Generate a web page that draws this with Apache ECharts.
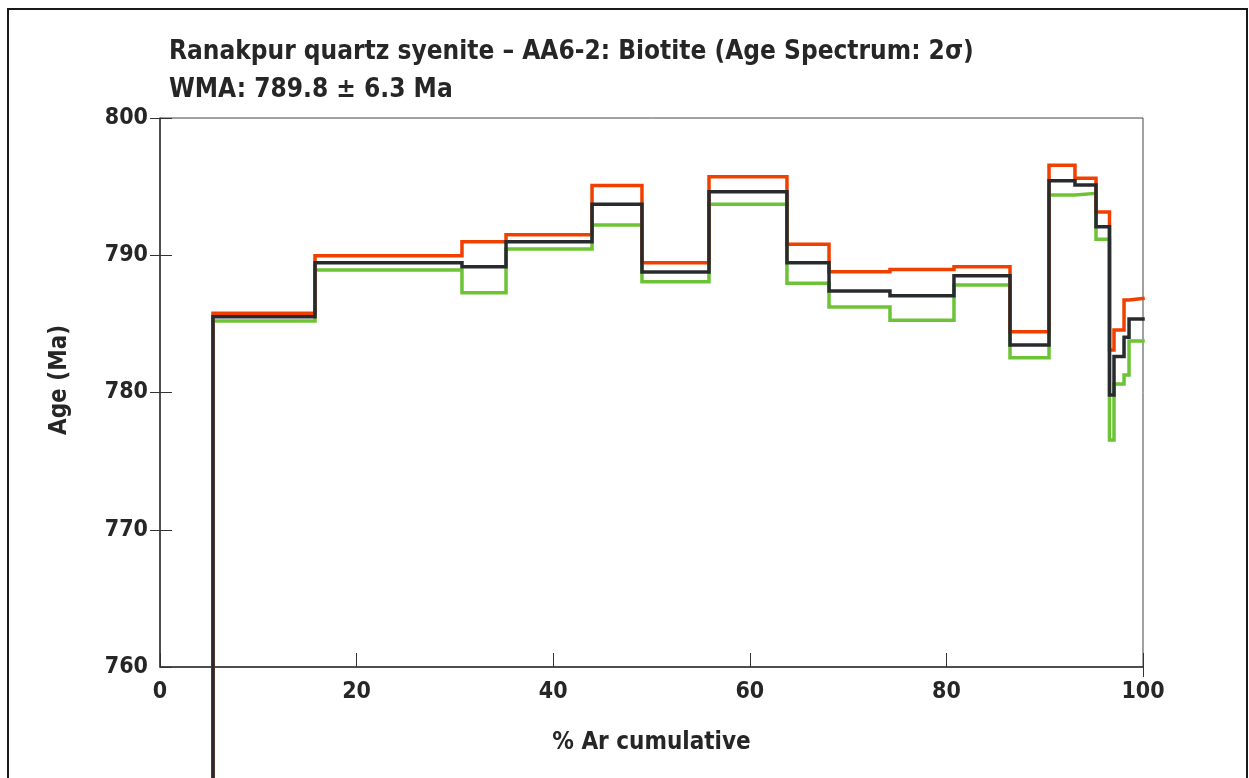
<!DOCTYPE html>
<html>
<head>
<meta charset="utf-8">
<script src="https://cdn.jsdelivr.net/npm/echarts@6/dist/echarts.min.js"></script>
<style>
  html, body { margin: 0; padding: 0; background: #ffffff; }
  #chart { width: 1249px; height: 778px; }
</style>
</head>
<body>
<div id="chart"></div>
<script>
// Step boundaries, % 39Ar released (cumulative); step i spans stepEdges[i]..stepEdges[i+1]
const stepEdges = [0, 5.39, 15.77, 30.72, 35.20, 43.95, 49.03, 55.85, 63.78, 68.06,
  74.26, 80.77, 86.47, 90.44, 93.08, 95.22, 96.59, 97.05, 98.07, 98.58, 100];

// First step falls far below the plotted range (off scale)
const firstStepAge = 700;

// Apparent age of each step (Ma)
const stepAge = [firstStepAge, 785.52, 789.46, 789.17, 790.99, 793.71, 788.78, 794.63, 789.46, 787.40,
  787.05, 788.51, 783.46, 795.43, 795.12, 792.08, 779.82, 782.62, 784.02, 785.35];

// Upper 2σ envelope (Ma)
const stepUpper = [firstStepAge, 785.77, 789.97, 790.99, 791.50, 795.09, 789.46, 795.72, 790.80, 788.80,
  788.97, 789.17, 784.43, 796.55, 795.61, 793.15, 783.10, 784.55, 786.74, 786.86];

// Lower 2σ envelope (Ma)
const stepLower = [firstStepAge, 785.21, 788.93, 787.27, 790.46, 792.20, 788.07, 793.71, 787.96, 786.23,
  785.26, 787.83, 782.54, 794.39, 794.51, 791.16, 776.54, 780.62, 781.28, 783.75];

const xTicks = [0, 20, 40, 60, 80, 100];
const yTicks = [760, 770, 780, 790, 800];

const titleLines = ['Ranakpur quartz syenite – AA6-2: Biotite (Age Spectrum: 2σ)', 'WMA: 789.8 ± 6.3 Ma'];
const xName = '% Ar cumulative';
const yName = 'Age (Ma)';

const FONT = '"Liberation Sans Narrow", "DejaVu Sans Condensed", "Liberation Sans", sans-serif';
const INK = '#262626';

// Build [x, y] pairs for a step-end line: each value held until the next edge
function stepPoints(values) {
  const pts = values.map((v, i) => [stepEdges[i], v]);
  pts.push([stepEdges[stepEdges.length - 1], values[values.length - 1]]);
  return pts;
}

function stepSeries(name, values, color, z) {
  return {
    name: name,
    type: 'line',
    step: 'end',
    data: stepPoints(values),
    symbol: 'none',
    clip: false,
    z: z,
    lineStyle: { color: color, width: 3.5, cap: 'square', join: 'miter' },
    emphasis: { disabled: true }
  };
}

const chart = echarts.init(document.getElementById('chart'), null, { renderer: 'canvas' });

chart.setOption({
  animation: false,
  backgroundColor: '#ffffff',
  title: {
    text: titleLines.join('\n'),
    left: 164,
    top: 28,
    textStyle: { fontFamily: FONT, fontWeight: 'bold', fontSize: 26, lineHeight: 38, color: INK }
  },
  graphic: [{
    type: 'rect',
    shape: { x: 8, y: 9, width: 1239, height: 820 },
    style: { fill: 'none', stroke: '#1a1a1a', lineWidth: 2 },
    silent: true
  }, {
    // vertical axis title
    type: 'text',
    x: 60, y: 380,
    rotation: Math.PI / 2,
    style: {
      text: yName, fontFamily: FONT, fontWeight: 'bold', fontSize: 24, fill: INK,
      align: 'center', verticalAlign: 'middle'
    },
    silent: true
  }],
  grid: {
    left: 160, right: 106, top: 118, bottom: 111,
    show: true, borderColor: '#444', borderWidth: 1, backgroundColor: 'transparent'
  },
  xAxis: [{
    type: 'value', min: 0, max: 100, interval: 20,
    name: xName, nameLocation: 'middle', nameGap: 64,
    nameTextStyle: { fontFamily: FONT, fontWeight: 'bold', fontSize: 24, color: INK },
    axisLine: { show: true, onZero: false, lineStyle: { color: '#333', width: 1.5 } },
    axisTick: { show: true, inside: true, length: 14, lineStyle: { color: '#333', width: 1 } },
    axisLabel: { fontFamily: FONT, fontWeight: 'bold', fontSize: 23, color: INK, margin: 14,
      customValues: xTicks },
    splitLine: { show: false }
  }, {
    type: 'value', min: 0, max: 100, position: 'bottom',
    axisLine: { show: false },
    axisTick: { show: true, inside: false, length: 10, customValues: [100], lineStyle: { color: '#333', width: 1 } },
    axisLabel: { show: false },
    splitLine: { show: false }
  }],
  yAxis: [{
    type: 'value', min: 760, max: 800, interval: 10,
    axisLine: { show: true, onZero: false, lineStyle: { color: '#333', width: 1.5 } },
    axisTick: { show: true, inside: true, length: 12, lineStyle: { color: '#333', width: 1 } },
    axisLabel: { fontFamily: FONT, fontWeight: 'bold', fontSize: 23, color: INK, margin: 12,
      padding: [6, 0, 0, 0], customValues: yTicks },
    splitLine: { show: false }
  }, {
    type: 'value', min: 760, max: 800, position: 'left',
    axisLine: { show: false },
    axisTick: { show: true, inside: false, length: 10, customValues: yTicks.slice(1),
      lineStyle: { color: '#333', width: 1 } },
    axisLabel: { show: false },
    splitLine: { show: false }
  }],
  series: [
    stepSeries('Lower 2σ', stepLower, '#6cc335', 2),
    stepSeries('Upper 2σ', stepUpper, '#f04000', 3),
    stepSeries('Age', stepAge, '#282b2d', 4)
  ]
});
</script>
</body>
</html>
